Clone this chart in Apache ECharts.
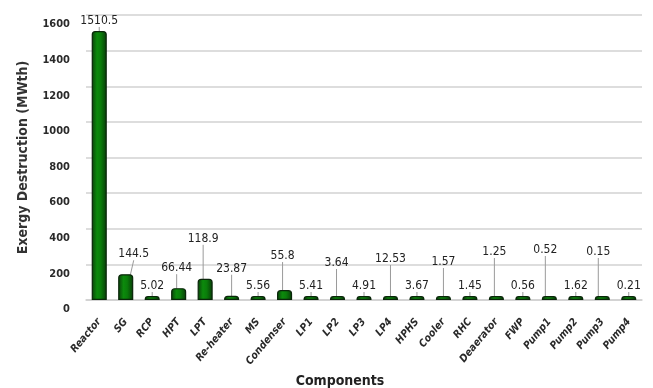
<!DOCTYPE html>
<html>
<head>
<meta charset="utf-8">
<script src="https://cdn.jsdelivr.net/npm/echarts@6/dist/echarts.min.js"></script>
<style>
  html, body { margin: 0; padding: 0; background: #fff; }
  #chart { width: 653px; height: 388px; }
</style>
</head>
<body>
<div id="chart"></div>
<script>
// Exergy destruction per plant component (MWth)
const components = ['Reactor', 'SG', 'RCP', 'HPT', 'LPT', 'Re-heater', 'MS', 'Condenser',
  'LP1', 'LP2', 'LP3', 'LP4', 'HPHS', 'Cooler', 'RHC', 'Deaerator', 'FWP',
  'Pump1', 'Pump2', 'Pump3', 'Pump4'];
const exergyDestruction = [1510.5, 144.5, 5.02, 66.44, 118.9, 23.87, 5.56, 55.8,
  5.41, 3.64, 4.91, 12.53, 3.67, 1.57, 1.45, 1.25, 0.56,
  0.52, 1.62, 0.15, 0.21];
const yTicks = [0, 200, 400, 600, 800, 1000, 1200, 1400, 1600];

// label shifts (px) so neighbouring value labels do not collide
const labelShift = {
  1: [8, -10], 3: [-2, -10], 4: [-2, -30], 5: [0, -17], 7: [-2, -24],
  9: [-1, -23], 11: [0, -27], 13: [0, -24], 15: [-2, -34], 17: [-4, -36], 19: [-4, -34]
};

const FONT = "'DejaVu Sans Condensed', 'Liberation Sans', sans-serif";

const chart = echarts.init(document.getElementById('chart'));
chart.setOption({
  animation: false,
  grid: { left: 86, right: 11, top: 15, bottom: 88, outerBoundsMode: 'none', containLabel: false },
  xAxis: {
    type: 'category',
    data: components,
    name: 'Components',
    nameLocation: 'middle',
    nameGap: 67,
    nameTextStyle: { fontFamily: FONT, fontSize: 14, fontWeight: 'bold', color: '#222', padding: [0, 48, 0, 0] },
    axisLine: { lineStyle: { color: '#cfcfcf', width: 1.5 } },
    axisTick: { show: false },
    axisLabel: {
      interval: 0, rotate: 50, margin: 20,
      fontFamily: FONT, fontSize: 10.5, fontWeight: 'bold', fontStyle: 'italic', color: '#2a2a2a'
    }
  },
  yAxis: {
    type: 'value',
    min: yTicks[0],
    max: yTicks[yTicks.length - 1],
    interval: yTicks[1] - yTicks[0],
    name: 'Exergy Destruction (MWth)',
    nameLocation: 'middle',
    nameGap: 56,
    nameTextStyle: { fontFamily: FONT, fontSize: 14, fontWeight: 'bold', color: '#333' },
    axisLine: { show: false },
    axisTick: { show: false },
    axisLabel: {
      margin: 16, fontFamily: FONT, fontSize: 11, fontWeight: 'bold', color: '#2a2a2a',
      verticalAlign: 'top', padding: [4, 0, 0, 0],
      formatter: function (v) { return String(v); }
    },
    splitLine: { lineStyle: { color: '#d2d2d2', width: 1.5 } }
  },
  series: [{
    type: 'bar',
    data: exergyDestruction,
    barWidth: '57%',
    barMinHeight: 4,
    itemStyle: {
      color: new echarts.graphic.LinearGradient(0, 0, 1, 0, [
        { offset: 0, color: '#0b3f0b' },
        { offset: 0.35, color: '#0c8a0c' },
        { offset: 0.6, color: '#0a7d0a' },
        { offset: 1, color: '#093a09' }
      ]),
      borderColor: '#0a260a',
      borderWidth: 1.2,
      borderRadius: [3, 3, 0, 0]
    },
    label: {
      show: true, position: 'top', distance: 4,
      fontFamily: FONT, fontSize: 12, color: '#222'
    },
    labelLine: { show: true, lineStyle: { color: '#9a9a9a', width: 1 } },
    labelLayout: function (p) {
      const s = labelShift[p.dataIndex];
      return s ? { dx: s[0], dy: s[1] } : {};
    }
  }]
});
</script>
</body>
</html>
